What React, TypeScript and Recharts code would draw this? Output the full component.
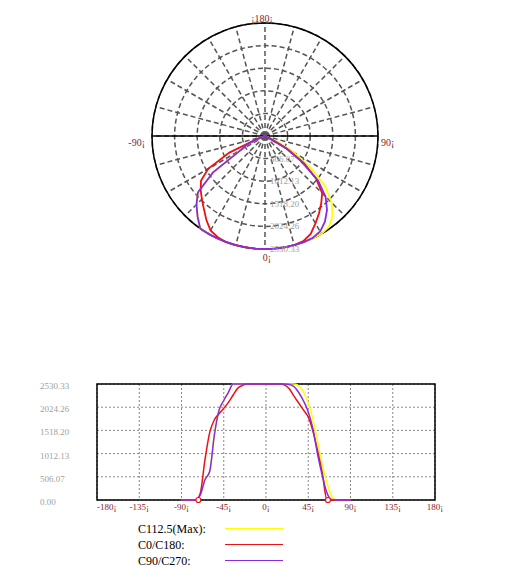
import React from 'react';
import {
  RadarChart,
  Radar,
  PolarGrid,
  PolarAngleAxis,
  PolarRadiusAxis,
  LineChart,
  Line,
  XAxis,
  YAxis,
  CartesianGrid,
  ReferenceArea,
  ReferenceDot,
} from 'recharts';

// gamma angles (deg), 0 = straight down
const angles = [
  -90, -85, -80, -75, -70, -65, -60, -55, -50, -45, -40, -35, -30, -25, -20, -15, -10, -5, 0,
  5, 10, 15, 20, 25, 30, 35, 40, 45, 50, 55, 60, 65, 70, 75, 80, 85, 90,
];

// intensity readings per C-plane
const c112 = [
  0, 0, 0, 0, 110, 443, 620, 1420, 1960, 2170, 2350, 2530, 2530, 2530, 2530, 2530, 2530, 2530, 2530,
  2530, 2530, 2530, 2530, 2530, 2530, 2490, 2350, 2110, 1760, 1270, 750, 370, 80, 0, 0, 0, 0,
];
const c0 = [
  0, 0, 0, 0, 150, 880, 1470, 1750, 1880, 2000, 2130, 2290, 2440, 2500, 2530, 2530, 2530, 2530, 2530,
  2530, 2530, 2530, 2505, 2420, 2260, 2110, 1960, 1810, 1500, 1070, 580, 0, 0, 0, 0, 0, 0,
];
const c90 = [
  0, 0, 0, 0, 110, 443, 620, 1420, 1960, 2170, 2350, 2530, 2530, 2530, 2530, 2530, 2530, 2530, 2530,
  2530, 2530, 2530, 2530, 2520, 2470, 2340, 2160, 1920, 1550, 990, 530, 150, 10, 0, 0, 0, 0,
];

const intensityTicks = [0, 506.07, 1012.13, 1518.2, 2024.26, 2530.33];
const xTicks = [-180, -135, -90, -45, 0, 45, 90, 135, 180];
const polarLabels = [-90, 0, 90, 180];
const redEdges = [-72, 66];

const series = [
  { key: 'c112', name: 'C112.5(Max):', color: '#ffff00' },
  { key: 'c0', name: 'C0/C180:', color: '#ee1111' },
  { key: 'c90', name: 'C90/C270:', color: '#8a2be2' },
];

const rows = angles.map((a, i) => ({ angle: a, c112: c112[i], c0: c0[i], c90: c90[i] }));

const MAX = intensityTicks[intensityTicks.length - 1];
const FONT = "'Liberation Serif', 'Times New Roman', serif";
const LABEL_RED = '#8b2323';
const OUTER = 113;
const spokes = Array.from({ length: 24 }, (_, i) => i * 15);

// the axis puts its tick points 8px outside the rim
const angleLabelPos: Record<number, { text: string; anchor: string; dx: number; dy: number }> = {
  180: { text: '¡180¡', anchor: 'middle', dx: -3, dy: 6.8 },
  90: { text: '90¡', anchor: 'start', dx: -5, dy: 9.5 },
  [-90]: { text: '-90¡', anchor: 'end', dx: 1, dy: 9.5 },
  0: { text: '0¡', anchor: 'middle', dx: 2, dy: 3.5 },
};

const AngleTick = (props: any) => {
  const { x, y, payload } = props;
  const p = angleLabelPos[payload.value];
  if (!p) return <g />;
  return (
    <text x={x + p.dx} y={y + p.dy} textAnchor={p.anchor} fontSize={10} fontFamily={FONT} fill={LABEL_RED}>
      {p.text}
    </text>
  );
};

const RadiusTick = (props: any) => {
  const { x, y, payload } = props;
  if (!payload.value) return <g />;
  return (
    <text x={x + 5} y={y + 3} textAnchor="start" fontSize={9} fontFamily={FONT} fill="#a0a0a0">
      {Number(payload.value).toFixed(2)}
    </text>
  );
};

const XTick = (props: any) => {
  const { x, y, payload, index } = props;
  return (
    <text x={x} y={y + 8} textAnchor={index === 0 ? 'start' : 'middle'} fontSize={9} fontFamily={FONT} fill={LABEL_RED}>
      {payload.value}¡
    </text>
  );
};

const YTick = (props: any) => {
  const { y, payload } = props;
  return (
    <text x={32} y={y + 5} textAnchor="start" fontSize={9} fontFamily={FONT} fill="#a0a0a0">
      {Number(payload.value).toFixed(2)}
    </text>
  );
};

export default function App() {
  return (
    <div style={{ position: 'relative', width: 498, height: 563, fontFamily: FONT, background: '#fff' }}>
      <div style={{ position: 'absolute', left: 0, top: 0 }}>
        <RadarChart
          width={498}
          height={270}
          data={rows}
          cx={257}
          cy={128}
          outerRadius={OUTER}
          startAngle={-270}
          endAngle={90}
          margin={{ top: 0, right: 0, bottom: 0, left: 0 }}
        >
          <PolarGrid gridType="circle" polarAngles={spokes} stroke="#555" strokeWidth={1.5} strokeDasharray="5 3" />
          <PolarGrid gridType="circle" polarAngles={[0, 180]} polarRadius={[OUTER]} stroke="#000" strokeWidth={1.5} />
          <PolarAngleAxis
            dataKey="angle"
            type="number"
            domain={[-180, 180]}
            ticks={polarLabels}
            tick={AngleTick}
            tickLine={false}
            axisLine={false}
          />
          <PolarRadiusAxis
            angle={-90}
            domain={[0, MAX]}
            ticks={intensityTicks}
            tick={RadiusTick}
            axisLine={false}
            tickLine={false}
          />
          {series.map((s) => (
            <Radar
              key={s.key}
              dataKey={s.key}
              stroke={s.color}
              strokeWidth={1.8}
              fill="none"
              fillOpacity={0}
              dot={false}
              isAnimationActive={false}
            />
          ))}
        </RadarChart>
      </div>

      <div style={{ position: 'absolute', left: 0, top: 360 }}>
        <LineChart width={498} height={160} data={rows} margin={{ top: 16, right: 71, bottom: 8, left: 32 }}>
          <CartesianGrid stroke="#888" strokeDasharray="2 2" />
          <ReferenceArea x1={-180} x2={180} y1={0} y2={MAX} fill="none" stroke="#000" strokeWidth={1.5} ifOverflow="visible" />
          <XAxis
            dataKey="angle"
            type="number"
            domain={[-180, 180]}
            ticks={xTicks}
            tick={XTick}
            tickLine={false}
            tickSize={0}
            axisLine={false}
            height={20}
            interval={0}
          />
          <YAxis
            domain={[0, MAX]}
            ticks={intensityTicks}
            tick={YTick}
            tickLine={false}
            tickSize={0}
            axisLine={false}
            width={57}
            interval={0}
          />
          {series.map((s) => (
            <Line
              key={s.key}
              type="monotone"
              dataKey={s.key}
              stroke={s.color}
              strokeWidth={1.5}
              dot={false}
              isAnimationActive={false}
            />
          ))}
          {redEdges.map((a) => (
            <ReferenceDot key={a} x={a} y={0} r={2.5} fill="#fff" stroke="#ee1111" strokeWidth={1.2} ifOverflow="visible" />
          ))}
        </LineChart>
      </div>

      <div style={{ position: 'absolute', left: 130, top: 513 }}>
        {series.map((s) => (
          <div key={s.key} style={{ position: 'relative', height: 16, lineHeight: '16px', fontSize: 12, color: '#000' }}>
            {s.name}
            <div style={{ position: 'absolute', left: 87, top: 7, width: 58, height: 1, background: s.color }} />
          </div>
        ))}
      </div>
    </div>
  );
}
